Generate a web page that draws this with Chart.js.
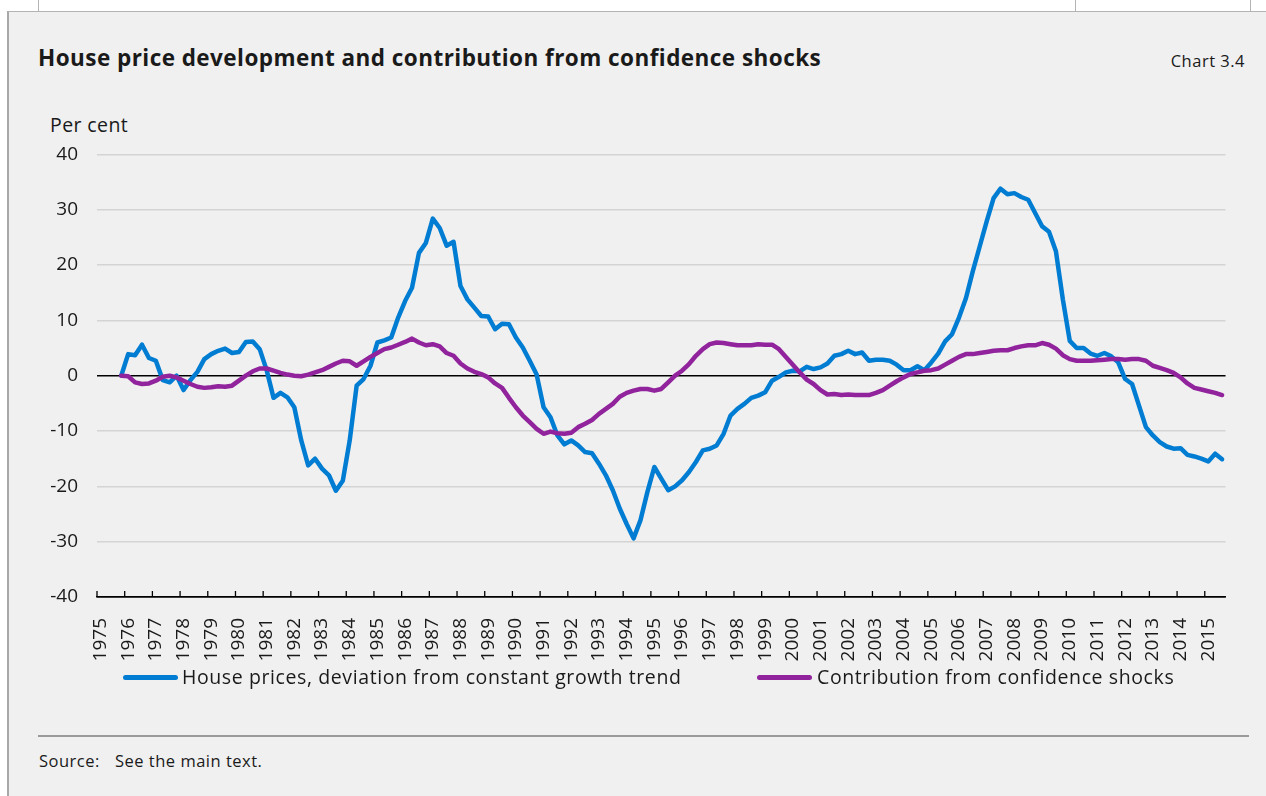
<!DOCTYPE html>
<html>
<head>
<meta charset="utf-8">
<script src="https://cdn.jsdelivr.net/npm/chart.js@4.4.0/dist/chart.umd.min.js"></script>
<style>
    html, body { margin: 0; padding: 0; background: #fff; }
    body { width: 1266px; height: 796px; position: relative; overflow: hidden; font-family: 'Open Sans', sans-serif; color: #1a1a1a; }
    #panel { position: absolute; left: 7px; top: 11px; right: 0; bottom: 0; background: #f0f0f0; border-left: 2px solid #a8a8a8; border-top: 1px solid #b4b4b4; }
    .mark { position: absolute; top: 0; width: 1px; height: 11px; background: #b4b4b4; }
    #title { position: absolute; left: 38px; top: 43px; font-size: 22.5px; letter-spacing: 0.45px; font-weight: 700; line-height: 30px; white-space: nowrap; }
    #chartNo { position: absolute; right: 21px; top: 50px; font-size: 16.5px; letter-spacing: 0.5px; line-height: 22px; }
    #unit { position: absolute; left: 50px; top: 112px; font-size: 19.5px; letter-spacing: 0.4px; line-height: 26px; }
    #chartWrap { position: absolute; left: 0; top: 124px; width: 1266px; height: 546px; }
    .legend { position: absolute; top: 663px; font-size: 19.5px; letter-spacing: 0.6px; line-height: 28px; white-space: nowrap; }
    .legend .swatch { position: absolute; top: 12px; width: 55px; height: 5px; border-radius: 3px; }
    .legend span.txt { position: absolute; top: 0; }
    #rule { position: absolute; left: 38px; width: 1211px; top: 735px; height: 2px; background: #9a9a9a; }
    .source { position: absolute; top: 750px; font-size: 16.5px; letter-spacing: 0.5px; line-height: 22px; white-space: nowrap; }
</style>
</head>
<body>
<div id="panel"></div>
<div class="mark" style="left:38px"></div>
<div class="mark" style="left:1075px"></div>
<div class="mark" style="left:1250px"></div>
<div id="title">House price development and contribution from confidence shocks</div>
<div id="chartNo">Chart 3.4</div>
<div id="unit">Per cent</div>
<div id="chartWrap"><canvas id="houseChart"></canvas></div>
<div class="legend" id="legendHouse" style="left:123px">
    <div class="swatch" style="left:0;background:#007dd2"></div>
    <span class="txt" style="left:59px">House prices, deviation from constant growth trend</span>
</div>
<div class="legend" id="legendConf" style="left:757px">
    <div class="swatch" style="left:0;background:#91239c"></div>
    <span class="txt" style="left:60px">Contribution from confidence shocks</span>
</div>
<div id="rule"></div>
<div class="source" style="left:39px">Source:</div>
<div class="source" style="left:115px">See the main text.</div>

<script>
// ===== 데이터 =====
const years = [1975, 1976, 1977, 1978, 1979, 1980, 1981, 1982, 1983, 1984,
               1985, 1986, 1987, 1988, 1989, 1990, 1991, 1992, 1993, 1994,
               1995, 1996, 1997, 1998, 1999, 2000, 2001, 2002, 2003, 2004,
               2005, 2006, 2007, 2008, 2009, 2010, 2011, 2012, 2013, 2014, 2015];
const firstQuarter = '1975Q4';
const lastQuarter = '2015Q3';

// 1975Q4 부터 분기별 (줄마다 한 해)
const housePrices = [
    0,
    3.9, 3.7, 5.6, 3.2,
    2.7, -0.8, -1.2, 0,
    -2.6, -0.8, 0.7, 3.0,
    3.9, 4.5, 4.9, 4.1,
    4.3, 6.1, 6.2, 4.8,
    1.0, -4.0, -3.1, -3.9,
    -5.7, -11.7, -16.2, -15.0,
    -16.8, -18.0, -20.8, -19.0,
    -11.7, -1.8, -0.6, 1.8,
    6.0, 6.4, 6.9, 10.5,
    13.5, 15.9, 22.2, 24.0,
    28.4, 26.7, 23.5, 24.2,
    16.2, 13.8, 12.3, 10.8,
    10.7, 8.4, 9.4, 9.3,
    6.9, 5.1, 2.7, 0.2,
    -5.7, -7.5, -10.8, -12.4,
    -11.7, -12.6, -13.8, -14.0,
    -15.9, -18.0, -20.7, -24.0,
    -26.8, -29.4, -26.1, -21.0,
    -16.5, -18.6, -20.7, -20.0,
    -18.9, -17.4, -15.6, -13.5,
    -13.2, -12.6, -10.5, -7.2,
    -6.0, -5.1, -4.0, -3.6,
    -3.0, -0.9, -0.2, 0.6,
    0.9, 0.8, 1.6, 1.2,
    1.5, 2.2, 3.6, 3.9,
    4.5, 3.9, 4.2, 2.7,
    2.9, 2.9, 2.7, 2.0,
    1.0, 1.0, 1.7, 1.0,
    2.4, 4.0, 6.2, 7.5,
    10.5, 14.0, 18.9, 23.4,
    27.9, 32.1, 33.8, 32.8,
    33.0, 32.3, 31.8, 29.4,
    27.0, 26.0, 22.5, 13.8,
    6.3, 5.0, 5.0, 4.0,
    3.6, 4.1, 3.5, 2.4,
    -0.6, -1.5, -5.4, -9.3,
    -10.8, -12.0, -12.8, -13.2,
    -13.1, -14.3, -14.6, -15.0,
    -15.5, -14.1, -15.1
];

const confidenceShocks = [
    0,
    -0.1, -1.2, -1.5, -1.4,
    -0.9, -0.2, 0, -0.3,
    -0.9, -1.5, -2.0, -2.2,
    -2.1, -1.9, -2.0, -1.8,
    -0.9, 0, 0.8, 1.3,
    1.3, 0.9, 0.5, 0.2,
    0, -0.1, 0.2, 0.6,
    1.0, 1.6, 2.2, 2.7,
    2.6, 1.8, 2.6, 3.4,
    4.1, 4.8, 5.1, 5.6,
    6.1, 6.7, 6.0, 5.5,
    5.7, 5.3, 4.1, 3.6,
    2.2, 1.3, 0.7, 0.3,
    -0.3, -1.4, -2.2, -4.0,
    -5.7, -7.2, -8.4, -9.6,
    -10.5, -10.1, -10.4, -10.5,
    -10.3, -9.3, -8.7, -8.0,
    -6.9, -6.0, -5.1, -3.8,
    -3.1, -2.7, -2.4, -2.4,
    -2.7, -2.4, -1.2, 0,
    0.9, 2.1, 3.6, 4.8,
    5.7, 6.0, 5.9, 5.7,
    5.5, 5.5, 5.5, 5.7,
    5.6, 5.6, 4.8, 3.4,
    2.0, 0.6, -0.7, -1.5,
    -2.6, -3.4, -3.3, -3.5,
    -3.4, -3.5, -3.5, -3.5,
    -3.1, -2.6, -1.8, -1.0,
    -0.3, 0.3, 0.6, 0.9,
    1.0, 1.3, 2.0, 2.7,
    3.4, 3.9, 3.9, 4.1,
    4.3, 4.5, 4.6, 4.6,
    5.0, 5.3, 5.5, 5.5,
    5.9, 5.6, 4.9, 3.7,
    3.0, 2.7, 2.7, 2.7,
    2.8, 2.9, 3.0, 3.0,
    2.9, 3.0, 3.0, 2.7,
    1.8, 1.4, 1.0, 0.5,
    -0.3, -1.4, -2.2, -2.5,
    -2.8, -3.1, -3.5
];

const yTicks = { min: -40, max: 40, step: 10 };

let houseChart = null;

// ===== 분기 라벨 =====
function buildQuarters() {
    const labels = [];
    years.forEach(y => {
        for (let q = 1; q <= 4; q++) labels.push(y + 'Q' + q);
    });
    return labels.slice(0, labels.indexOf(lastQuarter) + 1);
}

function alignSeries(values, quarters) {
    const start = quarters.indexOf(firstQuarter);
    return new Array(start).fill(null).concat(values);
}

// x축 눈금: 연도 경계마다 위쪽으로 짧게
const yearTicksPlugin = {
    id: 'yearTicks',
    afterDraw(chart) {
        const x = chart.scales.x;
        const ctx = chart.ctx;
        const half = (x.getPixelForValue(1) - x.getPixelForValue(0)) / 2;
        ctx.save();
        ctx.strokeStyle = '#000';
        ctx.lineWidth = 1.3;
        for (let i = 0; i < x.ticks.length; i += 4) {
            const px = x.getPixelForValue(i) - half;
            ctx.beginPath();
            ctx.moveTo(px, x.top);
            ctx.lineTo(px, x.top - 6);
            ctx.stroke();
        }
        ctx.restore();
    }
};

// ===== 차트 렌더링 =====
function renderChart() {
    const quarters = buildQuarters();
    const ctx = document.getElementById('houseChart').getContext('2d');
    if (houseChart) houseChart.destroy();

    Chart.defaults.font.family = "'Open Sans', sans-serif";
    Chart.defaults.color = '#1a1a1a';

    houseChart = new Chart(ctx, {
        type: 'line',
        data: {
            labels: quarters,
            datasets: [{
                label: 'House prices, deviation from constant growth trend',
                data: alignSeries(housePrices, quarters),
                borderColor: '#007dd2',
                borderWidth: 4.5,
                pointRadius: 0,
                tension: 0,
                borderJoinStyle: 'round',
                borderCapStyle: 'round',
                order: 1
            }, {
                label: 'Contribution from confidence shocks',
                data: alignSeries(confidenceShocks, quarters),
                borderColor: '#91239c',
                borderWidth: 4.5,
                pointRadius: 0,
                tension: 0,
                borderJoinStyle: 'round',
                borderCapStyle: 'round',
                order: 0
            }]
        },
        options: {
            responsive: true,
            maintainAspectRatio: false,
            animation: false,
            layout: { padding: { top: 0, right: 38, left: 0, bottom: 0 } },
            plugins: { legend: { display: false }, tooltip: { enabled: false } },
            scales: {
                x: {
                    offset: true,
                    grid: { display: false, drawTicks: false },
                    border: { display: true, color: '#000', width: 1.5 },
                    afterFit: scale => { scale.height = 73; },
                    ticks: {
                        autoSkip: false,
                        maxRotation: 90,
                        minRotation: 90,
                        padding: 21,
                        font: { size: 19 },
                        callback: (val, index) => index % 4 === 0 ? years[index / 4] : ''
                    }
                },
                y: {
                    min: yTicks.min,
                    max: yTicks.max,
                    afterFit: scale => { scale.width = 97; },
                    border: { display: false },
                    grid: {
                        drawTicks: false,
                        lineWidth: 1.5,
                        color: c => (c.tick.value === 0 || c.tick.value === yTicks.min) ? '#000' : '#d4d4d4'
                    },
                    ticks: {
                        stepSize: yTicks.step,
                        padding: 19,
                        font: { size: 19 }
                    }
                }
            }
        },
        plugins: [yearTicksPlugin]
    });
}

document.addEventListener('DOMContentLoaded', renderChart);
</script>
</body>
</html>
